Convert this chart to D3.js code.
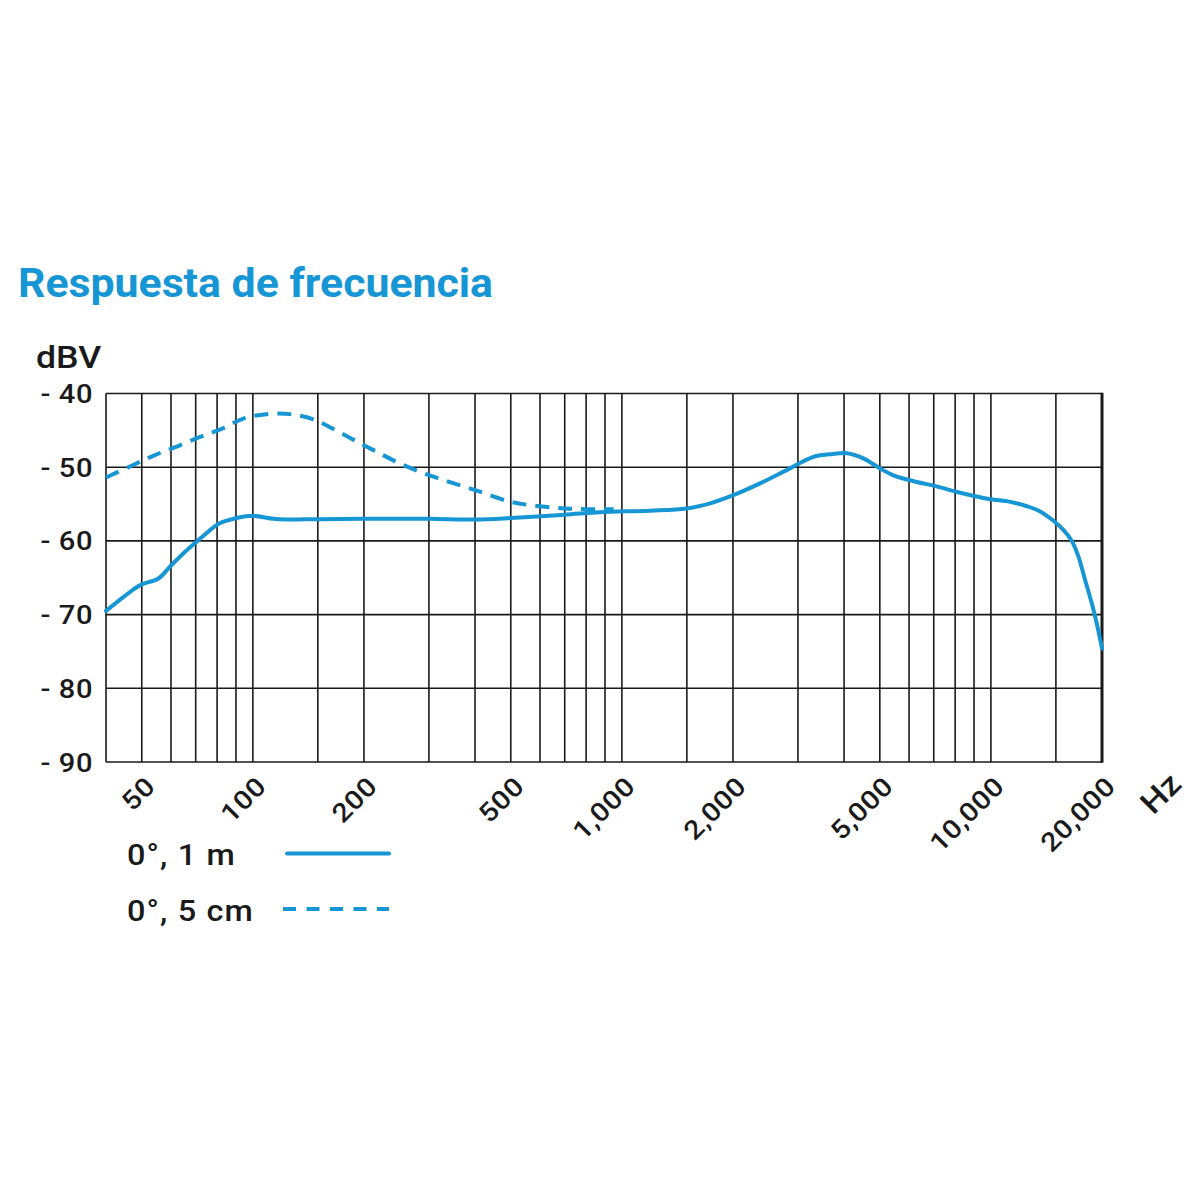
<!DOCTYPE html>
<html><head><meta charset="utf-8">
<script src="https://cdn.jsdelivr.net/npm/d3@7"></script>
<style>body{margin:0;background:#fff}</style>
</head><body><svg id="chart" width="1200" height="1200"></svg>
<script>
const titleText = "Respuesta de frecuencia";
const yUnit = "dBV";
const xUnit = "Hz";
const yTicks = [-40, -50, -60, -70, -80, -90];
const xGrid = [40,50,60,70,80,90,100,150,200,300,400,500,600,700,800,900,1000,1500,2000,3000,4000,5000,6000,7000,8000,9000,10000,15000,20000];
const xLabels = [50,100,200,500,1000,2000,5000,10000,20000];
const seriesNames = ["0°, 1 m", "0°, 5 cm"];

const freqSolid = [40,43.6,47.4,50,55.5,59.6,64.8,70.4,75.7,80.6,90.4,100,113.6,123.6,150,200,300,400,500,700,873,1192,1499,1734,2004,2368,2797,3303,3741,4069,4511,5000,5441,6296,7000,8000,9000,10000,11270,12510,13590,14715,15716,16568,17260,18000,18770,19360,20000];
const dbSolid = [-69.5,-68.0,-66.6,-65.9,-65.1,-63.5,-61.7,-60.1,-58.75,-57.7,-56.9,-56.6,-57.0,-57.1,-57.05,-57.0,-57.0,-57.1,-56.9,-56.45,-56.1,-55.9,-55.6,-54.9,-53.8,-52.2,-50.4,-48.6,-48.2,-48.1,-48.8,-50.15,-51.1,-52.0,-52.5,-53.3,-53.9,-54.35,-54.7,-55.3,-56.0,-57.2,-58.5,-60.0,-62.1,-65.3,-68.5,-71.2,-74.6];

const freqDashed = [40,47.4,54.3,62.2,71.9,83.2,94.2,109,126,145.8,168.8,191,216.6,250.5,289.8,318,400,500,600,700,800,950];
const dbDashed = [-51.4,-49.7,-48.35,-47.2,-45.9,-44.7,-43.4,-42.8,-42.8,-43.5,-45.05,-46.5,-47.9,-49.5,-50.8,-51.5,-53.1,-54.7,-55.3,-55.6,-55.7,-55.7];

const blue = "#1696d4";
const ink = "#1a1a1a";
const font = "Roboto, 'Liberation Sans', Arial, sans-serif";
const widen = 1.12;
const svg = d3.select("#chart");

const x = d3.scaleLog().domain([40, 20000]).range([106, 1102]);
const y = d3.scaleLinear().domain([-90, -40]).range([762, 393.5]);

// title
svg.append("text").attr("x", 18).attr("y", 297)
  .attr("font-family", font).attr("font-weight", 700)
  .attr("font-size", 41).attr("fill", blue)
  .attr("textLength", 475).attr("lengthAdjust", "spacingAndGlyphs")
  .text(titleText);

svg.append("text").attr("transform", "translate(36,368) scale(1.15,1)")
  .attr("font-family", font).attr("font-weight", 500)
  .attr("font-size", 31).attr("fill", ink)
  .text(yUnit);

// grid
const g = svg.append("g");
g.selectAll("line.v").data(xGrid).join("line")
  .attr("x1", d => x(d)).attr("x2", d => x(d))
  .attr("y1", y(-40)).attr("y2", y(-90))
  .attr("stroke", ink).attr("stroke-width", 1.6);
g.selectAll("line.h").data(yTicks).join("line")
  .attr("x1", x(40)).attr("x2", x(20000))
  .attr("y1", d => y(d)).attr("y2", d => y(d))
  .attr("stroke", ink).attr("stroke-width", 1.6);
g.append("line").attr("x1", x(20000)).attr("x2", x(20000))
  .attr("y1", y(-40)-0.8).attr("y2", y(-90)+0.8)
  .attr("stroke", ink).attr("stroke-width", 3);

// y labels
svg.append("g").selectAll("text").data(yTicks).join("text")
  .attr("transform", d => `translate(93,${y(d) + 9.5}) scale(${widen},1)`)
  .attr("text-anchor", "end")
  .attr("font-family", font).attr("font-weight", 500)
  .attr("font-size", 26).attr("letter-spacing", 0.5).attr("fill", ink)
  .text(d => "- " + Math.abs(d));

// x labels
const fmt = d3.format(",");
svg.append("g").selectAll("text").data(xLabels).join("text")
  .attr("transform", d => `translate(${x(d) + 15},788) rotate(-45) scale(${widen},1)`)
  .attr("text-anchor", "end")
  .attr("font-family", font).attr("font-weight", 500)
  .attr("font-size", 26).attr("letter-spacing", 0.5).attr("fill", ink)
  .text(d => fmt(d));

svg.append("text")
  .attr("transform", `translate(1183,786) rotate(-45) scale(${widen},1)`)
  .attr("text-anchor", "end")
  .attr("font-family", font).attr("font-weight", 500)
  .attr("font-size", 31).attr("fill", ink)
  .text(xUnit);

// curves
const line = d3.line().x(d => x(d[0])).y(d => y(d[1])).curve(d3.curveCatmullRom.alpha(0.5));
const solidData = d3.zip(freqSolid, dbSolid);
const dashedData = d3.zip(freqDashed, dbDashed);

svg.append("path").datum(dashedData).attr("d", line)
  .attr("fill", "none").attr("stroke", blue).attr("stroke-width", 4)
  .attr("stroke-dasharray", "14,9");
svg.append("path").datum(solidData).attr("d", line)
  .attr("fill", "none").attr("stroke", blue).attr("stroke-width", 4)
  .attr("stroke-linecap", "round");

// legend
const legY = [853.5, 909];
const leg = svg.append("g").selectAll("g").data(seriesNames).join("g");
leg.append("text")
  .attr("transform", (d, i) => `translate(127,${legY[i] + 11.5}) scale(${widen},1)`)
  .attr("font-family", font).attr("font-weight", 500)
  .attr("font-size", 29).attr("letter-spacing", 1).attr("fill", ink)
  .text(d => d);
leg.append("line").attr("x1", (d, i) => i === 0 ? 287 : 283).attr("x2", 389)
  .attr("y1", (d, i) => legY[i]).attr("y2", (d, i) => legY[i])
  .attr("stroke", blue).attr("stroke-width", 4)
  .attr("stroke-linecap", (d, i) => i === 0 ? "round" : "butt")
  .attr("stroke-dasharray", (d, i) => i === 0 ? null : "13,10.5");
</script>
</body></html>
